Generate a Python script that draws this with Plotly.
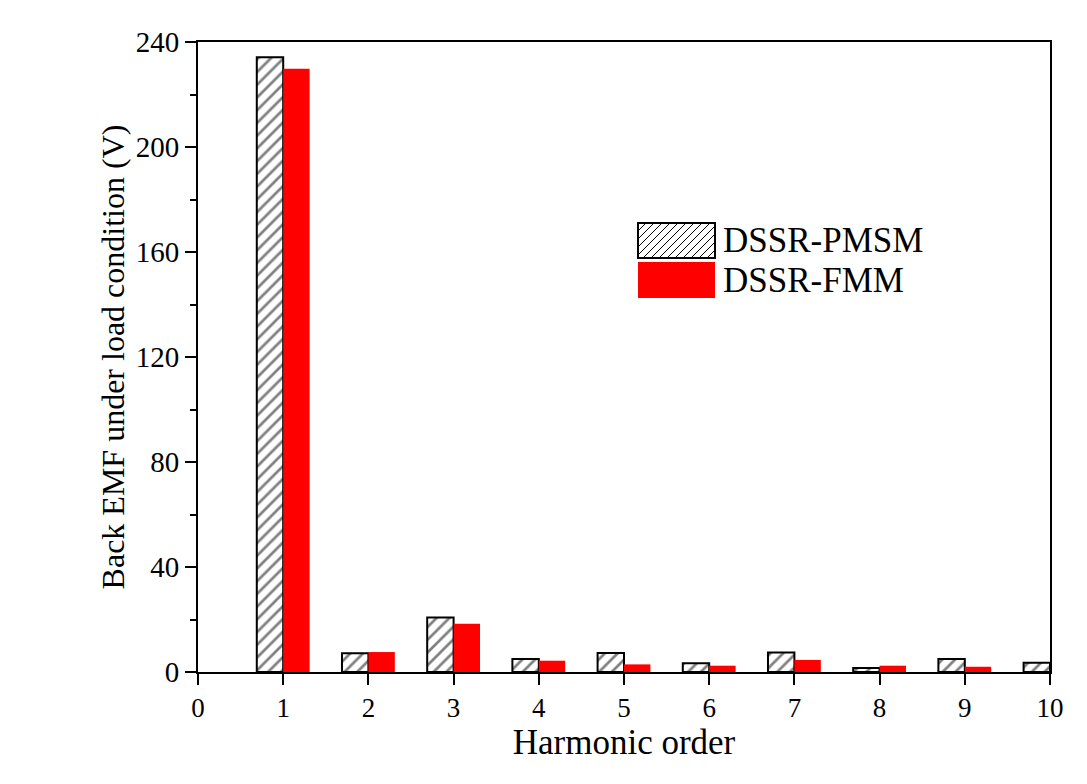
import plotly.graph_objects as go

harmonics = [1, 2, 3, 4, 5, 6, 7, 8, 9, 10]
pmsm = [234.2, 7.1, 20.8, 5.0, 7.2, 3.3, 7.4, 1.5, 5.0, 3.5]
fmm = [229.8, 7.6, 18.4, 4.3, 2.9, 2.4, 4.6, 2.4, 2.0, 2.0]
series_names = ["DSSR-PMSM", "DSSR-FMM"]
x_ticks = list(range(0, 11))
y_ticks = [0, 40, 80, 120, 160, 200, 240]

FONT = "Liberation Serif"
W, H = 1087, 784
ML, MR, MT, MB = 198, 37, 42, 112
PW, PH = W - ML - MR, H - MT - MB


def px(x):
    return (x - ML) / PW


def py(y):
    return (H - MB - y) / PH


fig = go.Figure()
fig.add_trace(go.Bar(
    x=harmonics, y=pmsm, name=series_names[0],
    offset=-0.31, width=0.31,
    marker=dict(color="white", line=dict(color="black", width=2),
                pattern=dict(shape="/", fgcolor="black", bgcolor="white",
                             size=9, solidity=0.3)),
))
fig.add_trace(go.Bar(
    x=harmonics, y=fmm, name=series_names[1],
    offset=0.0, width=0.31,
    marker=dict(color="#ff0000", line=dict(width=0)),
))

# Manual legend with large swatches (as in the reference)
sx0, sx1 = 638, 715
rows = [(223, 258), (262, 298)]
shapes = []
y0, y1 = rows[0]
segs = []
step = 8
for k in range(-int(y1 - y0), int(sx1 - sx0) + step, step):
    ax, ay = sx0 + k, y1
    bx, by = ax + (y1 - y0), y0
    if ax < sx0:
        ay -= (sx0 - ax); ax = sx0
    if bx > sx1:
        by += (bx - sx1); bx = sx1
    if ax >= bx:
        continue
    segs.append(f"M{px(ax):.5f},{py(ay):.5f}L{px(bx):.5f},{py(by):.5f}")
shapes.append(dict(type="rect", xref="paper", yref="paper",
                   x0=px(sx0), x1=px(sx1), y0=py(y1), y1=py(y0),
                   fillcolor="white", line=dict(width=0), layer="above"))
shapes.append(dict(type="path", xref="paper", yref="paper", path="".join(segs),
                   line=dict(color="black", width=1), layer="above"))
shapes.append(dict(type="rect", xref="paper", yref="paper",
                   x0=px(sx0), x1=px(sx1), y0=py(y1), y1=py(y0),
                   fillcolor="rgba(0,0,0,0)", line=dict(color="black", width=2), layer="above"))
y0, y1 = rows[1]
shapes.append(dict(type="rect", xref="paper", yref="paper",
                   x0=px(sx0), x1=px(sx1), y0=py(y1), y1=py(y0),
                   fillcolor="#ff0000", line=dict(width=0), layer="above"))
annotations = []
for name, (a, b) in zip(series_names, rows):
    annotations.append(dict(text=name, xref="paper", yref="paper",
                            x=px(721), y=py((a + b) / 2), xanchor="left", yanchor="middle",
                            showarrow=False, font=dict(family=FONT, size=35, color="black")))

fig.update_layout(
    width=W, height=H,
    margin=dict(l=ML, r=MR, t=MT, b=MB),
    plot_bgcolor="white", paper_bgcolor="white",
    font=dict(family=FONT, color="black", size=28),
    barmode="overlay",
    showlegend=False,
    shapes=shapes, annotations=annotations,
)
fig.update_xaxes(
    range=[0, 10], tickvals=x_ticks, ticktext=[str(v) for v in x_ticks],
    showgrid=False, zeroline=False,
    showline=True, linecolor="black", linewidth=2, mirror=True,
    ticks="outside", ticklen=11, tickwidth=2, tickcolor="black",
    tickfont=dict(family=FONT, size=27, color="black"),
    title=dict(text="Harmonic order", font=dict(family=FONT, size=35), standoff=4),
)
fig.update_yaxes(
    range=[0, 240], tickvals=y_ticks, ticktext=[str(v) for v in y_ticks],
    showgrid=False, zeroline=False,
    showline=True, linecolor="black", linewidth=2, mirror=True,
    ticks="outside", ticklen=11, tickwidth=2, tickcolor="black",
    minor=dict(ticks="outside", ticklen=6, tickwidth=2, tickcolor="black", dtick=20),
    tickfont=dict(family=FONT, size=29, color="black"),
    title=dict(text="Back EMF under load condition (V)", font=dict(family=FONT, size=32), standoff=2),
)

fig.write_html("out.html")
